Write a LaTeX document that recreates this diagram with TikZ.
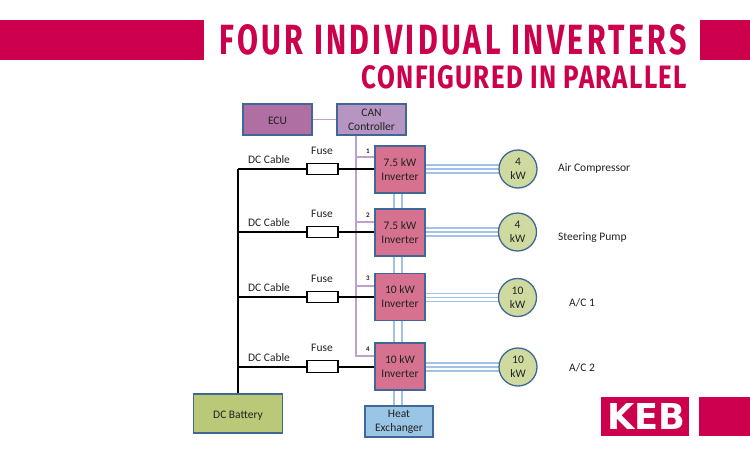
\documentclass[tikz,border=0pt]{standalone}
\usepackage{graphicx}
\usepackage{fontspec}
\setmainfont{Carlito}
\newfontfamily\headfont[LetterSpace=11]{Fira Sans}
\newfontfamily\subfont[LetterSpace=5]{Fira Sans}
\newfontfamily\logofont{DejaVu Sans}
\usetikzlibrary{backgrounds}
\definecolor{kebred}{HTML}{CC004C}
\definecolor{edgeblue}{HTML}{3F6797}
\definecolor{ecufill}{HTML}{B06FA3}
\definecolor{canfill}{HTML}{B795C3}
\definecolor{invfill}{HTML}{D6728F}
\definecolor{motorfill}{HTML}{CFDAA0}
\definecolor{batfill}{HTML}{B9C977}
\definecolor{heatfill}{HTML}{9AC5E4}
\definecolor{paleblue}{HTML}{A3C2E6}
\definecolor{palepurple}{HTML}{C0A0CC}
\definecolor{txt}{HTML}{222222}
\newcommand{\lowertext}{\rule{0pt}{11pt}}
\tikzset{
  redbar/.style={fill=kebred,draw=none},
  block/.style={draw=edgeblue,line width=1.3pt,rectangle,align=center,inner sep=0pt,font=\fontsize{11.5}{14}\selectfont,text=txt,execute at begin node=\lowertext},
  motor/.style={draw=edgeblue,line width=1.3pt,circle,fill=motorfill,minimum size=38pt,inner sep=0pt,align=center,font=\fontsize{11.5}{14}\selectfont,text=txt,execute at begin node=\lowertext},
  fuse/.style={draw=black,line width=1.1pt,fill=white,minimum width=31pt,minimum height=11.5pt,inner sep=0pt},
  lbl/.style={font=\fontsize{11.5}{13}\selectfont,text=txt,inner sep=0pt},
  num/.style={font=\bfseries\fontsize{7}{8}\selectfont,text=txt,inner sep=0pt},
  dcline/.style={draw=black,line width=1.5pt},
  ctl/.style={draw=palepurple,line width=1.5pt},
  cool/.style={draw=paleblue,line width=1.1pt},
  headnode/.style={inner sep=0pt,anchor=south east,text=kebred}
}
\begin{document}
\begin{tikzpicture}[x=1pt,y=-1pt]
\useasboundingbox (0,0) rectangle (750,450);
% header
\path[redbar] (0,19.5) rectangle (203.5,59.5);
\path[redbar] (700,19.5) rectangle (750,59.5);
\node[headnode] (t1) at (687,55.5) {\resizebox{467pt}{30pt}{\headfont\bfseries FOUR INDIVIDUAL INVERTERS}};
\node[headnode] (t2) at (687,89) {\resizebox{325pt}{23pt}{\subfont\bfseries CONFIGURED IN PARALLEL}};
% logo
\path[redbar] (601,396.7) rectangle (689.3,436);
\path[redbar] (699,396.7) rectangle (750,436);
\node[inner sep=0pt,anchor=south west,text=white] (keb) at (607,430) {\resizebox{78pt}{26pt}{\logofont\bfseries KEB}};
% blocks
\node[block,fill=ecufill,minimum width=69pt,minimum height=31pt] (ecu) at (277.5,119.5) {ECU};
\node[block,fill=canfill,minimum width=69pt,minimum height=31pt] (can) at (371.5,119.5) {CAN\\Controller};
\node[block,fill=invfill,minimum width=50pt,minimum height=47pt] (i1) at (400,169.5) {7.5 kW\\Inverter};
\node[block,fill=invfill,minimum width=50pt,minimum height=47pt] (i2) at (400,232.5) {7.5 kW\\Inverter};
\node[block,fill=invfill,minimum width=50pt,minimum height=46.5pt] (i3) at (400,297) {10 kW\\Inverter};
\node[block,fill=invfill,minimum width=50pt,minimum height=47pt] (i4) at (400,366.5) {10 kW\\Inverter};
\node[block,fill=batfill,minimum width=89pt,minimum height=39pt] (bat) at (238,413.5) {DC Battery};
\node[block,fill=heatfill,minimum width=68pt,minimum height=31pt] (heat) at (399,421.5) {Heat\\Exchanger};
\node[motor] (m1) at (518,169) {4\\kW};
\node[motor] (m2) at (517.5,232) {4\\kW};
\node[motor] (m3) at (517.5,297.5) {10\\kW};
\node[motor] (m4) at (518,367) {10\\kW};
% bus coordinates
\coordinate (d1) at (238,169);
\coordinate (d2) at (238,232);
\coordinate (d3) at (238,297);
\coordinate (d4) at (238,367);
\coordinate (c1) at (356,157);
\coordinate (c2) at (356,222);
\coordinate (c3) at (356,286);
\coordinate (c4) at (356,356);
% fuses
\node[fuse] (f1) at (322.5,169) {};
\node[fuse] (f2) at (322.5,232) {};
\node[fuse] (f3) at (322.5,297) {};
\node[fuse] (f4) at (322.5,366.5) {};
\begin{scope}[on background layer]
  % control
  \draw[ctl] (ecu.east) -- (can.west);
  \draw[ctl] (can.south -| c1) -- (c4) -- (c4 -| i4.west);
  \draw[ctl] (c1) -- (c1 -| i1.west);
  \draw[ctl] (c2) -- (c2 -| i2.west);
  \draw[ctl] (c3) -- (c3 -| i3.west);
  % DC
  \draw[dcline] (bat.north) -- (d1);
  \draw[dcline] (d1) -- (d1 -| i1.west);
  \draw[dcline] (d2) -- (d2 -| i2.west);
  \draw[dcline] (d3) -- (d3 -| i3.west);
  \draw[dcline] (d4) -- (d4 -| i4.west);
  % motor feeds
  \foreach \a/\b in {i1/m1,i2/m2,i3/m3,i4/m4}{
    \draw[cool] ([yshift=4pt]\b.center -| \a.east) -- ([yshift=4pt]\b.center);
    \draw[cool] (\b.center -| \a.east) -- (\b.center);
    \draw[cool] ([yshift=-4pt]\b.center -| \a.east) -- ([yshift=-4pt]\b.center);
  }
  % cooling links
  \foreach \a/\b in {i1/i2,i2/i3,i3/i4,i4/heat}{
    \draw[cool] ([xshift=-6pt]\a.south) -- ([xshift=-6pt]\a.south |- \b.north);
    \draw[cool] ([xshift=2pt]\a.south) -- ([xshift=2pt]\a.south |- \b.north);
  }
\end{scope}
% labels
\node[lbl] (l1) at (269,160) {DC Cable};
\node[lbl] (l2) at (269,223) {DC Cable};
\node[lbl] (l3) at (269,288) {DC Cable};
\node[lbl] (l4) at (269,358) {DC Cable};
\node[lbl] (u1) at (322,151) {Fuse};
\node[lbl] (u2) at (322,214) {Fuse};
\node[lbl] (u3) at (322,279) {Fuse};
\node[lbl] (u4) at (322,348) {Fuse};
\node[num] (n1) at (368,151) {1};
\node[num] (n2) at (368,215) {2};
\node[num] (n3) at (368,278) {3};
\node[num] (n4) at (368,349) {4};
\node[lbl,anchor=west] (a1) at (558,168) {Air Compressor};
\node[lbl,anchor=west] (a2) at (558,238) {Steering Pump};
\node[lbl,anchor=west] (a3) at (569,303) {A/C 1};
\node[lbl,anchor=west] (a4) at (569,368) {A/C 2};
\end{tikzpicture}
\end{document}
